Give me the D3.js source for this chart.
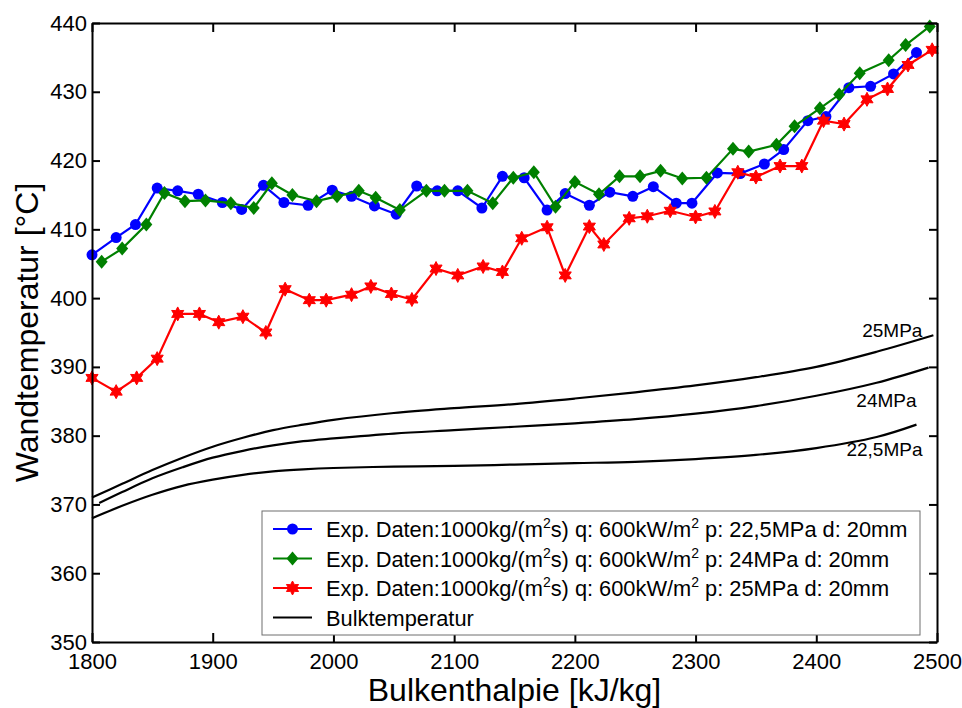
<!DOCTYPE html>
<html>
<head>
<meta charset="utf-8">
<script src="https://cdn.jsdelivr.net/npm/d3@7"></script>
<style>
  body { margin: 0; background: #fff; }
  svg { display: block; font-family: "Liberation Sans", Arial, sans-serif; }
  text { white-space: pre; }
</style>
</head>
<body>
<svg id="chart"></svg>
<script>
const width = 962;
const height = 708;
const margin = {left: 92, right: 25, top: 23, bottom: 66};

// Exp. data, 22,5 MPa (blue circles)
const blueX = [1800, 1820, 1836, 1854, 1871, 1888, 1908, 1924, 1942, 1959, 1979, 1999, 2015, 2034, 2052, 2069, 2086, 2103, 2123, 2140,
               2158, 2177, 2192, 2212, 2229, 2248, 2265, 2284, 2297, 2318, 2337, 2357, 2373, 2393, 2408, 2427, 2445, 2464, 2483];
const blueT = [406.3, 408.8, 410.7, 416.0, 415.6, 415.1, 413.9, 412.9, 416.4, 413.9, 413.5, 415.7, 414.8, 413.4, 412.2, 416.3, 415.6, 415.6, 413.1, 417.7,
               417.5, 412.8, 415.2, 413.5, 415.4, 414.8, 416.2, 413.8, 413.8, 418.2, 418.1, 419.5, 421.6, 425.8, 426.4, 430.6, 430.8, 432.6, 435.7];

// Exp. data, 24 MPa (green diamonds)
const greenX = [1808, 1825, 1845, 1860, 1877, 1894, 1915, 1934, 1949, 1966, 1986, 2003, 2021, 2035, 2055, 2077, 2092, 2111, 2132, 2149,
                2166, 2184, 2200, 2220, 2237, 2254, 2271, 2289, 2309, 2331, 2344, 2367, 2382, 2403, 2419, 2436, 2460, 2474, 2494];
const greenT = [405.3, 407.2, 410.7, 415.3, 414.1, 414.2, 413.8, 413.1, 416.7, 415.0, 414.1, 414.8, 415.6, 414.6, 412.8, 415.6, 415.6, 415.6, 413.8, 417.5,
                418.3, 413.3, 416.9, 415.1, 417.7, 417.7, 418.5, 417.4, 417.5, 421.7, 421.3, 422.3, 425.0, 427.6, 429.6, 432.7, 434.6, 436.8, 439.5];

// Exp. data, 25 MPa (red stars)
const redX = [1800, 1820, 1837, 1854, 1871, 1889, 1905, 1925, 1944, 1960, 1980, 1994, 2015, 2031, 2048, 2065, 2085, 2103, 2124, 2140,
              2156, 2177, 2192, 2212, 2224, 2245, 2260, 2279, 2300, 2316, 2335, 2350, 2370, 2388, 2406, 2423, 2442, 2459, 2476, 2496];
const redT = [388.4, 386.4, 388.4, 391.2, 397.7, 397.7, 396.5, 397.3, 395.0, 401.3, 399.7, 399.7, 400.5, 401.7, 400.6, 399.8, 404.3, 403.3, 404.6, 403.8,
              408.7, 410.3, 403.3, 410.4, 407.8, 411.6, 411.9, 412.7, 411.8, 412.6, 418.3, 417.6, 419.2, 419.2, 425.8, 425.3, 428.9, 430.4, 433.9, 436.1];

// Bulk temperature curves
const bulk25X = [1800, 1825, 1850, 1875, 1900, 1925, 1950, 1975, 2000, 2050, 2100, 2150, 2200, 2250, 2300, 2350, 2400, 2450, 2497];
const bulk25T = [371.0, 373.0, 375.0, 376.8, 378.4, 379.7, 380.8, 381.6, 382.3, 383.3, 384.0, 384.6, 385.4, 386.3, 387.3, 388.5, 390.0, 392.2, 394.6];
const bulk24X = [1806, 1825, 1850, 1875, 1900, 1925, 1950, 1975, 2000, 2050, 2100, 2150, 2200, 2250, 2300, 2350, 2400, 2450, 2493];
const bulk24T = [370.2, 371.8, 373.8, 375.4, 376.8, 377.8, 378.6, 379.2, 379.6, 380.3, 380.8, 381.3, 381.8, 382.4, 383.2, 384.3, 385.8, 387.7, 389.9];
const bulk22X = [1800, 1825, 1850, 1875, 1900, 1925, 1950, 1975, 2000, 2050, 2100, 2150, 2200, 2250, 2300, 2350, 2400, 2450, 2483];
const bulk22T = [368.0, 369.8, 371.4, 372.7, 373.6, 374.3, 374.8, 375.1, 375.3, 375.5, 375.6, 375.8, 376.0, 376.2, 376.6, 377.2, 378.2, 379.8, 381.6];

const xTicks = [1800, 1900, 2000, 2100, 2200, 2300, 2400, 2500];
const yTicks = [350, 360, 370, 380, 390, 400, 410, 420, 430, 440];
const pressures = ["22,5MPa", "24MPa", "25MPa"];
const curveLabels = ["25MPa", "24MPa", "22,5MPa"];

const svg = d3.select('#chart')
    .attr('width', width)
    .attr('height', height);

const x = d3.scaleLinear().domain([1800, 2500]).range([margin.left, width - margin.right]);
const y = d3.scaleLinear().domain([350, 440]).range([height - margin.bottom, margin.top]);

const zip = (xs, ys) => xs.map((v, i) => [v, ys[i]]);

// markers
function hexagram(r) {
    const pts = [];
    for (let i = 0; i < 12; i++) {
        const a = Math.PI / 6 * i - Math.PI / 2;
        const rr = i % 2 === 0 ? r : r * 0.55;
        pts.push([rr * Math.cos(a), rr * Math.sin(a)]);
    }
    return 'M' + pts.map(p => p.join(',')).join('L') + 'Z';
}
const diamond = 'M0,-7L6,0L0,7L-6,0Z';

const series = [
    {data: zip(blueX, blueT), color: '#0000ff', marker: 'circle'},
    {data: zip(greenX, greenT), color: '#008000', marker: 'diamond'},
    {data: zip(redX, redT), color: '#ff0000', marker: 'star'}
];

function drawMarker(g, type, color) {
    if (type === 'circle') {
        g.append('circle').attr('r', 5.5).attr('fill', color);
    } else if (type === 'diamond') {
        g.append('path').attr('d', diamond).attr('fill', color);
    } else if (type === 'star') {
        g.append('path').attr('d', hexagram(7)).attr('fill', color)
            .attr('stroke', color).attr('stroke-width', 1);
    }
}

const line = d3.line().x(d => x(d[0])).y(d => y(d[1]));
const smooth = d3.line().x(d => x(d[0])).y(d => y(d[1])).curve(d3.curveCatmullRom);

// bulk temperature curves
const bulk = [zip(bulk25X, bulk25T), zip(bulk24X, bulk24T), zip(bulk22X, bulk22T)];
svg.append('g').selectAll('path')
    .data(bulk)
    .enter().append('path')
        .attr('d', smooth)
        .attr('fill', 'none')
        .attr('stroke', 'black')
        .attr('stroke-width', 2.2);

// labels next to the curve ends (pixel offsets from the last point)
const labelOffsets = [[-11, 2], [-12, 39], [6, 31]];
svg.append('g').selectAll('text')
    .data(bulk)
    .enter().append('text')
        .attr('x', (d, i) => x(d[d.length - 1][0]) + labelOffsets[i][0])
        .attr('y', (d, i) => y(d[d.length - 1][1]) + labelOffsets[i][1])
        .attr('text-anchor', 'end')
        .attr('font-size', 19)
        .text((d, i) => curveLabels[i]);

// measured series
series.forEach(s => {
    const g = svg.append('g');
    g.append('path')
        .attr('d', line(s.data))
        .attr('fill', 'none')
        .attr('stroke', s.color)
        .attr('stroke-width', 2.2);
    g.selectAll('.mark')
        .data(s.data)
        .enter().append('g')
            .attr('class', 'mark')
            .attr('transform', d => `translate(${x(d[0])},${y(d[1])})`)
            .each(function() { drawMarker(d3.select(this), s.marker, s.color); });
});

// axes, ticks point inwards on all four sides
const plotBottom = height - margin.bottom;
const plotRight = width - margin.right;

const xAxis = svg.append('g')
    .attr('transform', `translate(0,${plotBottom})`)
    .call(d3.axisBottom(x).tickValues(xTicks).tickFormat(d3.format('d'))
        .tickSizeInner(-9).tickSizeOuter(0).tickPadding(10));
const yAxis = svg.append('g')
    .attr('transform', `translate(${margin.left},0)`)
    .call(d3.axisLeft(y).tickValues(yTicks).tickSizeInner(-8).tickSizeOuter(0).tickPadding(5));
svg.append('g')
    .attr('transform', `translate(0,${margin.top})`)
    .call(d3.axisTop(x).tickValues(xTicks).tickSizeInner(-9).tickSizeOuter(0).tickFormat(''));
svg.append('g')
    .attr('transform', `translate(${plotRight},0)`)
    .call(d3.axisRight(y).tickValues(yTicks).tickSizeInner(-8).tickSizeOuter(0).tickFormat(''));

svg.selectAll('.domain, .tick line')
    .attr('stroke', 'black')
    .attr('stroke-width', 2);
svg.selectAll('.tick text')
    .attr('font-family', '"Liberation Sans", Arial, sans-serif')
    .attr('font-size', 22)
    .attr('fill', 'black');
xAxis.selectAll('.tick text').attr('dy', '0.71em').attr('y', 11);
yAxis.selectAll('.tick text').attr('dy', '0.32em');

// axis titles
svg.append('text')
    .attr('x', (margin.left + plotRight) / 2)
    .attr('y', 701)
    .attr('text-anchor', 'middle')
    .attr('font-size', 32)
    .text('Bulkenthalpie [kJ/kg]');

svg.append('text')
    .attr('transform', `translate(38,${(margin.top + plotBottom) / 2}) rotate(-90)`)
    .attr('text-anchor', 'middle')
    .attr('font-size', 32)
    .text('Wandtemperatur [°C]');

// legend
const legend = svg.append('g').attr('transform', 'translate(262,511)');
legend.append('rect')
    .attr('width', 658)
    .attr('height', 124)
    .attr('fill', 'white')
    .attr('stroke', '#6e6e6e')
    .attr('stroke-width', 1);

const legendItems = series.map((s, i) => ({color: s.color, marker: s.marker, p: pressures[i]}));
legendItems.push({color: 'black', marker: null, p: null});

const rows = legend.selectAll('.row')
    .data(legendItems)
    .enter().append('g')
        .attr('class', 'row')
        .attr('transform', (d, i) => `translate(0,${18 + i * 29.5})`);

rows.append('line')
    .attr('x1', 11).attr('x2', 50)
    .attr('stroke', d => d.color)
    .attr('stroke-width', 2.2);
rows.each(function(d) {
    if (d.marker) {
        const m = d3.select(this).append('g').attr('transform', 'translate(30.5,0)');
        drawMarker(m, d.marker, d.color);
    }
});

rows.each(function(d) {
    const t = d3.select(this).append('text')
        .attr('x', 64)
        .attr('y', 8)
        .attr('font-size', 21.8);
    if (d.p === null) {
        t.text('Bulktemperatur');
        return;
    }
    t.append('tspan').text('Exp. Daten:1000kg/(m');
    t.append('tspan').attr('font-size', 14).attr('dy', -9).text('2');
    t.append('tspan').attr('dy', 9).text('s) q: 600kW/m');
    t.append('tspan').attr('font-size', 14).attr('dy', -9).text('2');
    t.append('tspan').attr('dy', 9).text(` p: ${d.p} d: 20mm`);
});
</script>
</body>
</html>
